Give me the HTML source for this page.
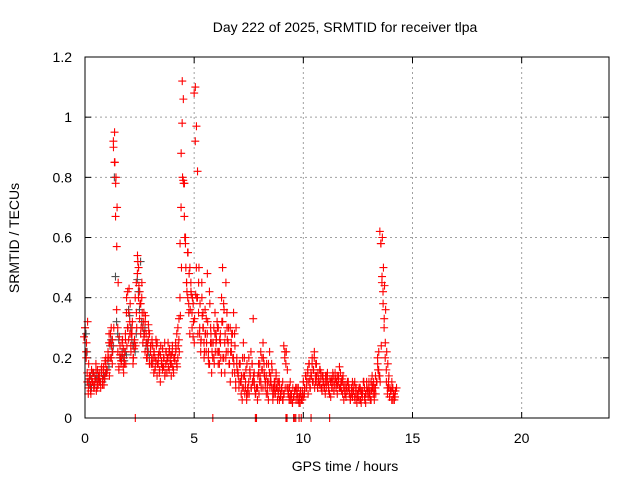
<!DOCTYPE html>
<html><head><meta charset="utf-8"><style>
body{margin:0;background:#fff}
svg{display:block;font-family:"Liberation Sans",sans-serif}
</style></head><body>
<svg id="c" width="640" height="480">
<rect width="640" height="480" fill="#fff"/>
<text x="345" y="32" font-size="14" text-anchor="middle">Day 222 of 2025, SRMTID for receiver tlpa</text>
<text x="345" y="471" font-size="14" text-anchor="middle">GPS time / hours</text>
<text transform="translate(19,238) rotate(-90)" font-size="14" text-anchor="middle">SRMTID / TECUs</text>
<g id="grid"></g>
<g id="ticks"></g>
<g id="pts"></g>
<rect x="85" y="57" width="524" height="361" fill="none" stroke="#000" stroke-width="1"/>
</svg>
<script>
const xTicks=[0,5,10,15,20];
const yTicks=[0,0.2,0.4,0.6,0.8,1,1.2];
const yTickLabels=["0","0.2","0.4","0.6","0.8","1","1.2"];
const timeStart=0, timeStep=0.05;
const srmtidA=[
.27,.30,.20,.12,.10,.14,.09,.13,.15,.11,.12,.16,.10,.13,.14,.12,.15,.11,.17,.13,
.18,.16,.22,.28,.25,.20,.26,.90,.95,.78,.57,.22,.17,.24,.19,.21,.23,.18,.26,.40,
.42,.35,.28,.22,.30,.20,.25,0,.35,.54,.50,.42,.38,.45,.30,.27,.32,.25,.22,.31,
.28,.24,.20,.18,.22,.16,.19,.25,.20,.15,.21,.18,.23,.17,.14,.22,.19,.25,.16,.21,
.18,.24,.15,.20,.22,.28,.30,.33,.58,.88,1.12,1.06,.78,.60,.45,.40,.35,.50,.42,.30,
.38,.25,1.10,.97,.82,.45,.30,.25,.40,.35,.20,.28,.33,.48,.22,.18,.30,.25,0,.20,
.35,.28,.22,.30,.18,.25,.40,.32,.20,.15,.45,.30,.25,.18,.12,.22,.28,.35,.15,.10,
.20,.15,.12,.18,.08,.10,.25,.14,.12,.06,.08,.20,.15,.10,.18,.33,.12,0,0,.10,
.15,.18,.12,.20,.25,.15,.10,.08,.12,.18,.22,.14,.10,.06,.08,.10,.15,.12,.09,.06,
.08,.10,.12,.24,.22,0,0,.10,.07,.06,.08,.05,0,0,0,.10,.07,0,.05,0,
.09,.12,.10,.14,.12,.15,.18,.13,0,.20,.16,.22,.12,.14,.10,.13,.11,.15,.09,.12,
.10,.08,.12,.15,.10,0,.07,.13,.12,.09,.15,.11,.08,.14,.17,.10,.09,.12,.06,.08,
.07,.09,.12,.08,.06,.10,.07,.09,.12,.08,.05,.07,.06,.10,.09,.08,.12,.07,.05,.10,
.08,.12,.09,.06,.11,.10,.08,.14,.12,.18,.22,.62,.58,.47,.38,.33,.25,.12,.08,.10,
.07,.09,.12,.06,.08];
const srmtidB=[
.30,.22,.15,.08,.13,.11,.16,.12,.10,.14,.18,.12,.11,.15,.12,.17,.13,.16,.14,.20,
.15,.20,.25,.20,.30,.18,.92,.85,.67,.36,.30,.16,.21,.18,.25,.17,.20,.28,.35,.30,
.26,.32,.24,.28,.18,.23,.40,.45,.48,.40,.33,.28,.40,.25,.35,.22,.28,.20,.26,.18,
.22,.18,.24,.15,.20,.26,.14,.18,.22,.12,.19,.16,.20,.25,.18,.15,.20,.22,.19,.14,
.22,.16,.20,.25,.18,.20,.26,.40,.70,.98,.79,.67,.58,.45,.55,.38,.28,.45,.35,.27,
1.08,.92,.50,.40,.35,.28,.22,.45,.30,.25,.36,.22,.28,.20,.42,.25,.15,.20,.30,.28,
.25,.32,.18,.22,.28,.15,.50,.38,.25,.20,.35,.22,.18,.30,.25,.15,.20,.28,.12,.18,
.15,.10,.18,.12,.06,.14,.20,.10,.08,.10,.12,.16,.22,.18,.12,.15,.08,.10,.06,.18,
.12,.22,.16,.10,.18,.12,.14,.10,.06,.15,.12,.18,.08,.10,.12,.14,.10,.08,.12,.07,
.10,.06,.08,.20,.18,.10,.08,.06,.12,.08,.05,.07,.09,.10,.08,.06,.05,.08,.07,.06,
.12,.08,.14,.10,.16,.12,.10,.15,.18,.12,.20,.14,.18,.10,.12,.16,.13,.10,.14,.10,
.12,.10,.14,.11,.08,.12,.10,.15,.09,.13,.10,.14,.12,.10,.15,.12,.08,.10,.09,.11,
.09,.12,.10,.06,.08,.12,.09,.07,.10,.06,.08,.10,.09,.05,.07,.12,.10,.08,.12,.09,
.10,.07,.12,.14,.08,.06,.10,.12,.20,.16,.14,.58,.45,.42,.30,.20,.16,.10,.12,.07,
.09,.06,.10,.08,.07];
const srmtidC=[
.25,.32,.18,.14,.08,.12,.15,.10,.13,.09,.16,.14,.12,.10,.16,.13,.11,.19,.15,.16,
.20,.14,.28,.24,.22,.30,.85,.80,.70,.45,.27,.20,.19,.26,.15,.22,.18,.24,.30,.43,
.38,.28,.32,.20,.26,.24,.30,.52,.44,.38,.30,.35,.32,.28,.34,.20,.24,.29,.18,.24,
.26,.20,.22,.17,.24,.18,.21,.16,.24,.18,.17,.20,.15,.22,.20,.17,.23,.18,.21,.17,
.20,.19,.23,.17,.24,.22,.34,.50,.80,.78,.60,.50,.42,.55,.48,.36,.41,.40,.32,.33,
.41,.40,.28,.50,.38,.26,.34,.30,.22,.28,.25,.32,.18,.38,.28,.22,.25,.18,.22,.26,
.30,.22,.26,.20,.32,.20,.36,.28,.22,.26,.30,.18,.22,.28,.20,.18,.24,.30,.16,.14,
.18,.12,.14,.20,.10,.08,.16,.18,.10,.08,.14,.10,.12,.14,.10,.08,.10,.14,.08,.14,
.10,.16,.20,.14,.12,.18,.08,.12,.10,.12,.16,.10,.12,.08,.10,.06,.12,.10,.07,.09,
.06,.08,.10,.22,.16,.08,.10,.08,.06,.10,.07,.09,.06,.08,.10,.07,.09,.06,.08,.07,
.10,.14,.12,.08,.18,.10,.14,.12,.16,.10,.18,.12,.15,.12,.16,.10,.14,.12,.10,.14,
.14,.12,.09,.13,.12,.10,.14,.11,.13,.12,.11,.13,.10,.12,.13,.14,.11,.08,.10,.12,
.10,.08,.07,.10,.09,.11,.06,.10,.08,.09,.10,.06,.08,.09,.12,.06,.08,.10,.07,.08,
.06,.09,.10,.12,.10,.08,.12,.16,.14,.12,.24,.60,.50,.44,.36,.22,.18,.14,.10,.09,
.10,.08,.06,.09,.10];
const greyPoints=[.28,.22,.12,.11,.14,.10,.12,.15,.11,.13,.14,.11,.13,.12,.15,.12,.14,.13,.15,.16,
.19,.17,.24,.26,.22,.24,.80,.47,.32,.28,.26,.20,.20,.22,.20,.19,.22,.21,.30,.36,
.34,.30,.26,.24,.25,.22,.28,.46,.42,.36,.52,.32,.30,.28,.30,.24,.25,.22,.20,.22];
const NS="http://www.w3.org/2000/svg";
const L=85,R=609,T=57,B=418;
const xs=v=>L+(v-0)/(24-0)*(R-L);
const ys=v=>B-(v-0)/(1.2-0)*(B-T);
function mk(tag,a,p){const e=document.createElementNS(NS,tag);for(const k in a)e.setAttribute(k,a[k]);p.appendChild(e);return e;}
const grid=document.getElementById('grid'),ticks=document.getElementById('ticks'),pts=document.getElementById('pts');
xTicks.forEach(v=>{const x=xs(v);
 if(v>0){const g=mk('line',{x1:x,x2:x,y1:T,y2:B,stroke:'#a0a0a0','stroke-dasharray':'2,3'},grid);
 
 }
 mk('line',{x1:x,x2:x,y1:B,y2:B-6,stroke:'#000'},ticks);
 mk('line',{x1:x,x2:x,y1:T,y2:T+6,stroke:'#000'},ticks);
 const t=mk('text',{x:x,y:443,'font-size':14,'text-anchor':'middle'},ticks);t.textContent=v;
 
 
});
yTicks.forEach((v,i)=>{const y=ys(v);
 if(v>0&&v<1.2){const g=mk('line',{x1:L,x2:R,y1:y,y2:y,stroke:'#a0a0a0','stroke-dasharray':'2,3'},grid);
 
 }
 mk('line',{x1:L,x2:L+6,y1:y,y2:y,stroke:'#000'},ticks);
 mk('line',{x1:R,x2:R-6,y1:y,y2:y,stroke:'#000'},ticks);
 const t=mk('text',{x:72,y:y+5,'font-size':14,'text-anchor':'end'},ticks);t.textContent=yTickLabels[i];
 
 
});
function plot(arr,col,name,off){arr.forEach((v,i)=>{const x=xs(timeStart+i*timeStep)+off,y=ys(v);
 const p=mk('path',{d:`M${x-4},${y}h8M${x},${y-4}v8`,stroke:col,'stroke-width':1.1,fill:'none'},pts);
 
 
});}
plot(greyPoints,'#505050','grey-point',1);
plot(srmtidC,'#ff0000','srmtid-point',1.5);
plot(srmtidB,'#ff0000','srmtid-point',0);
plot(srmtidA,'#ff0000','srmtid-point',-1);
</script>
</body></html>
